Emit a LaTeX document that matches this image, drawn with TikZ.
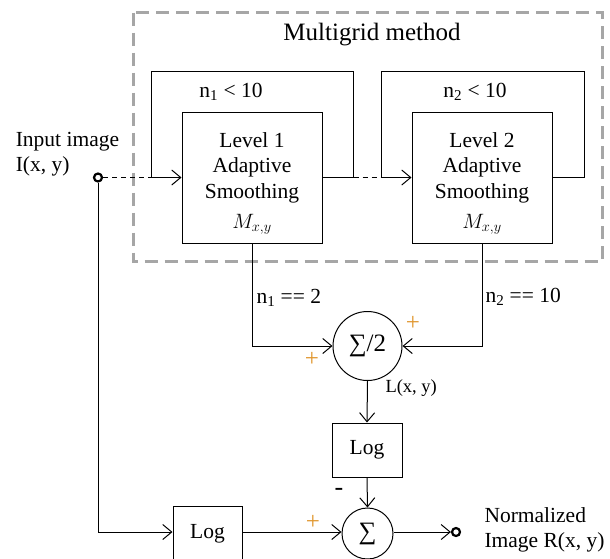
\documentclass[tikz,border=0pt]{standalone}
\usepackage{fontspec}
\setmainfont{Liberation Serif}
\usepackage{tikz}
\definecolor{gray400}{HTML}{A6A6A6}
\definecolor{orange500}{HTML}{E0962E}
\usetikzlibrary{arrows.meta}
\tikzstyle{block}=[rectangle, draw=black, line width=1pt, minimum width=140pt, minimum height=131pt, inner sep=0pt]
\tikzstyle{logbox}=[rectangle, draw=black, line width=1pt, minimum width=70pt, minimum height=54pt, inner sep=0pt]
\tikzstyle{adder}=[circle, draw=black, line width=1pt, inner sep=0pt, font=\fontsize{25}{28}\selectfont]
\tikzstyle{port}=[circle, draw=black, fill=white, line width=2.2pt, inner sep=0pt, minimum size=8pt]
\tikzstyle{flow}=[line width=1pt, -{Straight Barb[length=9pt,width=15pt]}]
\tikzstyle{sign}=[text=orange500, inner sep=0pt, font=\fontsize{25}{28}\selectfont]

\begin{document}
\begin{tikzpicture}[x=1pt, y=-1pt, line width=1pt, font=\fontsize{21.5}{25.5}\selectfont]
			\useasboundingbox (0,0) rectangle (610,558);
			% multigrid frame
			\draw[gray400, line width=3pt, dash pattern=on 13pt off 7pt] (133,12.5) rectangle (602.5,261);
			\node (title) at (372,35) {\fontsize{25}{28}\selectfont Multigrid method};
			% smoothing levels
			\node[block, label={[align=center, yshift=10pt]center:Level 1\\Adaptive\\Smoothing}, label={[anchor=base, yshift=15pt]south:$M_{x,y}$}] (lvla) at (252,177.5) {};
			\node[block, label={[align=center, yshift=10pt]center:Level 2\\Adaptive\\Smoothing}, label={[anchor=base, yshift=15pt]south:$M_{x,y}$}] (lvlb) at (482,177.5) {};
			\node[port] (inp) at (98,177.5) {};
			\node[align=left, anchor=west] (inplbl) at (12,154) {Input image\\I(x, y)};
			\coordinate (loopa) at (151,177.5);
			\coordinate (loopb) at (381,177.5);
			\coordinate (exita) at (353.5,177.5);
			\coordinate (exitb) at (584,177.5);
			\draw (lvla.east) -- (exita) -- (353.5,71) -- (151,71) -- (loopa);
			\draw (lvlb.east) -- (exitb) -- (584,71) -- (381,71) -- (loopb);
			\draw[dashed, dash pattern=on 5pt off 4pt] (inp) -- (loopa);
			\draw[dashed, dash pattern=on 5pt off 4pt] (exita) -- (loopb);
			\draw[flow] (loopa) -- (lvla.west);
			\draw[flow] (loopb) -- (lvlb.west);
			\node (conda) at (231,92) {n\textsubscript{1} < 10};
			\node (condb) at (475,92) {n\textsubscript{2} < 10};
			% averaging and normalisation
			\node[adder, minimum size=69pt] (avg) at (367.5,346) {∑/2};
			\node[logbox] (loga) at (367,450) {Log};
			\node[logbox, minimum width=69pt, minimum height=56pt] (logb) at (207.5,534) {Log};
			\node[adder, minimum size=51pt] (sum) at (367.5,533.5) {∑};
			\node[port] (outp) at (456,532) {};
			\draw[flow] (lvla.south) |- (avg.west);
			\draw[flow] (lvlb.south) |- (avg.east);
			\draw[flow] (avg.south) -- (loga.north);
			\draw[flow] (loga.south) -- (sum.north);
			\draw[flow] (inp) |- (logb.west |- 0,532);
			\draw[flow] (logb.east |- 0,532) -- (sum.west |- 0,532);
			\draw[flow] (sum.east |- 0,532) -- (outp.west);
			\node[anchor=west, inner sep=0pt] (nrma) at (256,298) {n\textsubscript{1} == 2};
			\node[anchor=west, inner sep=0pt] (nrmb) at (485,297) {n\textsubscript{2} == 10};
			\node[anchor=west, inner sep=0pt, font=\fontsize{18.5}{22}\selectfont] (lxy) at (385,388) {L(x, y)};
			\node[sign] (pla) at (312,359) {+};
			\node[sign] (plb) at (413,323) {+};
			\node[sign] (plc) at (313,522) {+};
			\node[inner sep=0pt, font=\fontsize{26}{28}\selectfont] (mns) at (339,492) {-};
			\node[align=left, anchor=west, inner sep=0pt] (outlbl) at (484,530) {Normalized\\Image R(x, y)};
		\end{tikzpicture}
\end{document}
